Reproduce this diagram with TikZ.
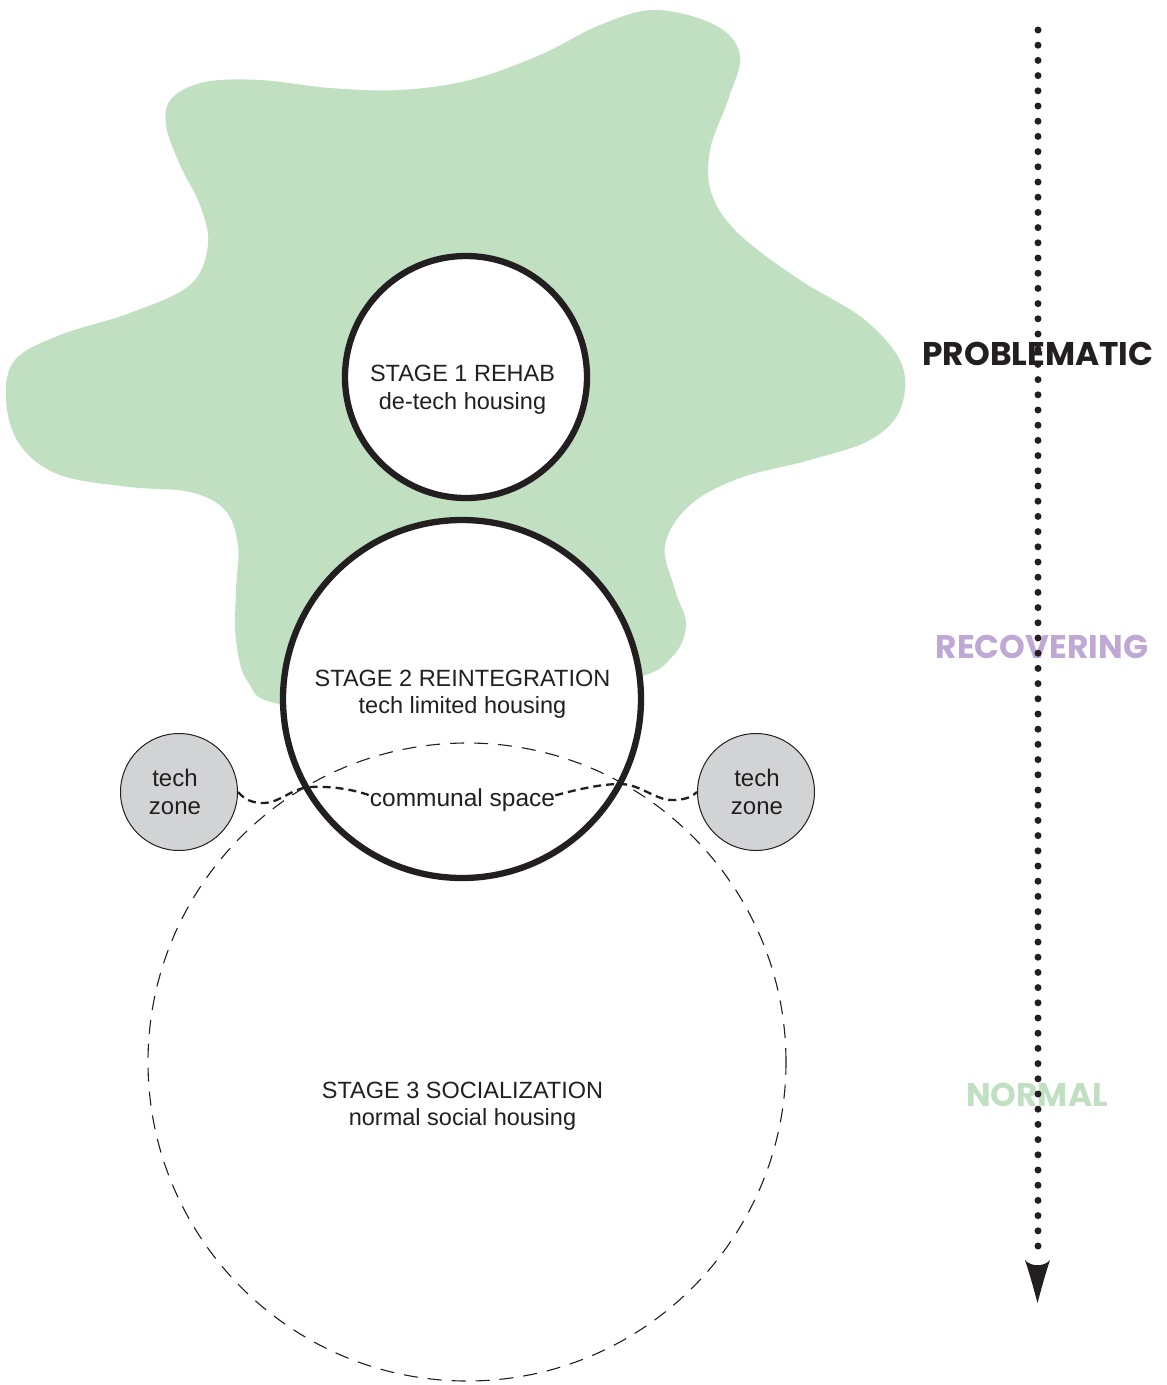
\documentclass[tikz,border=0pt]{standalone}
\usepackage{fontspec}
\setmainfont{Liberation Sans}
\newfontfamily\labelfont{Poppins}
\definecolor{ink}{HTML}{231F20}
\definecolor{blobgreen}{HTML}{C0E0C1}
\definecolor{lilac}{HTML}{BFA8D3}
\definecolor{zonegray}{HTML}{D1D3D4}
\tikzset{
  stagecircle/.style={circle, draw=ink, line width=6.3pt, fill=white, inner sep=0pt},
  stagethree/.style={circle, draw=ink, line width=1.1pt, dash pattern=on 14pt off 10pt, inner sep=0pt},
  techzone/.style={circle, draw=ink, line width=1pt, fill=zonegray, inner sep=0pt, minimum size=117pt},
  txt/.style={anchor=base, inner sep=0pt, text=ink, font=\fontsize{23.5}{28}\selectfont},
  phase/.style={anchor=base, inner sep=0pt, font=\labelfont\bfseries\fontsize{32.8}{36}\selectfont},
  conn/.style={draw=ink, line width=2.3pt, dash pattern=on 8pt off 5pt},
  dotline/.style={draw=ink, line width=7pt, line cap=round, dash pattern=on 0pt off 15.2pt}
}
\begin{document}
\begin{tikzpicture}[x=1pt,y=-1pt]
\useasboundingbox (0,0) rectangle (1167,1385);

% green blob
\fill[blobgreen] plot[smooth cycle, tension=0.6] coordinates {
 (655,10) (715,25) (740,55) (728,100) (710,150) (712,195) (740,235)
 (800,280) (865,320) (902,365) (900,410) (870,440) (810,460) (740,478)
 (690,505) (665,545) (675,590) (686,625) (672,657) (630,680)
 (460,720) (285,705) (248,682) (236,640) (236,590) (238,545) (225,510)
 (190,492) (130,487) (60,475) (20,445) (6,400) (15,360) (60,335)
 (130,313) (190,285) (208,245) (200,205) (180,165) (166,125) (172,98)
 (205,82) (260,80) (330,88) (400,90) (470,80) (540,55) (600,25)};

% stage circles
\node[stagecircle, minimum size=242pt] (c1) at (466,377) {};
\node[stagecircle, minimum size=358pt] (c2) at (462,699) {};
\node[stagethree, minimum size=638pt] (c3) at (467,1062) {};

% stage texts
\node[txt] (s1a) at (462.5,381.7) {STAGE 1 REHAB};
\node[txt] (s1b) at (462.5,409.5) {de-tech housing};
\node[txt] (s2a) at (462.5,686.7) {STAGE 2 REINTEGRATION};
\node[txt] (s2b) at (462.5,713.5) {tech limited housing};
\node[txt] (s3a) at (462.5,1098) {STAGE 3 SOCIALIZATION};
\node[txt] (s3b) at (462.5,1125) {normal social housing};

% tech zones
\node[techzone] (tzl) at (179,792) {};
\node[techzone] (tzr) at (756,792) {};
\node[txt, font=\fontsize{24}{28}\selectfont] (tzla) at (175,786.7) {tech};
\node[txt, font=\fontsize{24}{28}\selectfont] (tzlb) at (175,814) {zone};
\node[txt, font=\fontsize{24}{28}\selectfont] (tzra) at (757,786.7) {tech};
\node[txt, font=\fontsize{24}{28}\selectfont] (tzrb) at (757,814) {zone};

% communal space
\node[txt, font=\fontsize{24.5}{28}\selectfont] (comm) at (462.5,806.7) {communal space};

\draw[conn] (tzl.east) .. controls (245,800) and (253,803) .. (263,803)
  .. controls (280,803) and (292,788) .. (310,787)
  .. controls (330,786) and (352,789) .. ([yshift=5pt]comm.west);
\draw[conn] ([yshift=5pt]comm.east) .. controls (575,790) and (600,784) .. (620,784)
  .. controls (640,784) and (655,800) .. (672,800)
  .. controls (685,800) and (692,797) .. (tzr.west);

% phase labels
\node[phase, text=ink] (prob) at (1038,365) {PROBLEMATIC};
\node[phase, text=lilac] (reco) at (1042,658) {RECOVERING};
\node[phase, text=blobgreen] (norm) at (1037,1106) {NORMAL};

% dotted arrow
\coordinate (dtop) at (1038,30);
\coordinate (dbot) at (1038,1252);
\draw[dotline] (dtop) -- (dbot);
\fill[ink] (1025,1260) .. controls (1030,1275) and (1034,1290) .. (1037.5,1303)
  .. controls (1041,1290) and (1045,1275) .. (1050,1260)
  .. controls (1044,1267) and (1031,1267) .. cycle;
\end{tikzpicture}
\end{document}
